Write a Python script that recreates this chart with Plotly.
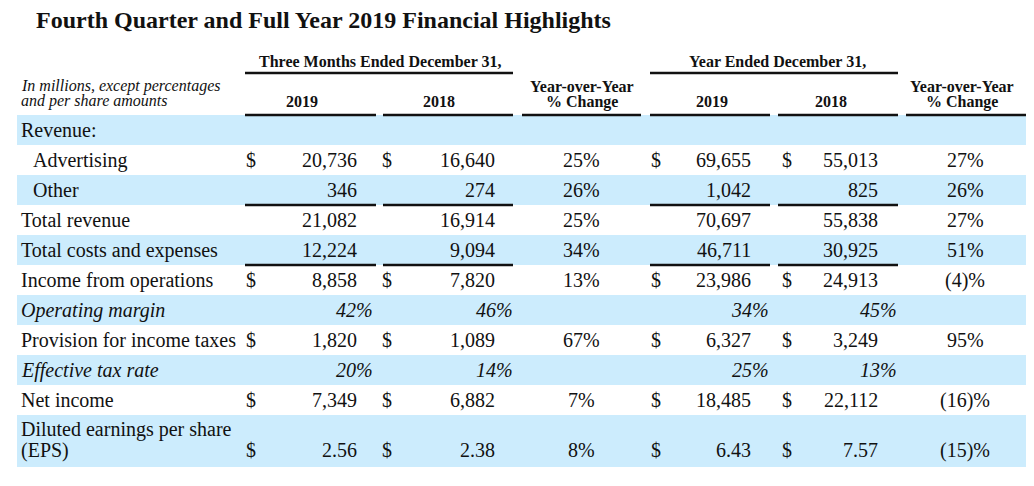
import plotly.graph_objects as go

# ---------------- data ----------------
title = "Fourth Quarter and Full Year 2019 Financial Highlights"
group_headers = ["Three Months Ended December 31,", "Year Ended December 31,"]
col_headers = ["2019", "2018", "Year-over-Year\n% Change", "2019", "2018", "Year-over-Year\n% Change"]
units_note = "In millions, except percentages\nand per share amounts"

row_labels = ["Revenue:", "Advertising", "Other", "Total revenue", "Total costs and expenses",
              "Income from operations", "Operating margin", "Provision for income taxes",
              "Effective tax rate", "Net income", "Diluted earnings per share\n(EPS)"]
row_kind = ["section", "amount", "amount", "amount", "amount", "amount",
            "margin", "amount", "margin", "amount", "eps"]

q4_2019 = [None, 20736, 346, 21082, 12224, 8858, 42, 1820, 20, 7349, 2.56]
q4_2018 = [None, 16640, 274, 16914, 9094, 7820, 46, 1089, 14, 6882, 2.38]
q4_yoy = [None, 25, 26, 25, 34, 13, None, 67, None, 7, 8]
fy_2019 = [None, 69655, 1042, 70697, 46711, 23986, 34, 6327, 25, 18485, 6.43]
fy_2018 = [None, 55013, 825, 55838, 30925, 24913, 45, 3249, 13, 22112, 7.57]
fy_yoy = [None, 27, 26, 27, 51, -4, None, 95, None, -16, -15]

dollar_rows = [1, 5, 7, 9, 10]
indent_rows = [1, 2]
underline_after = [2, 4]

# ---------------- layout constants ----------------
# The page body has an 8px margin, so the figure is 8px smaller and its axes
# start at 8 so that axis units equal page pixels.
W, H = 1034, 486
OFF = 8
SERIF = "Liberation Serif, Times New Roman, serif"
INK = "#111111"
BAND = "#CCECFD"

amount_spans = [(245, 376), (383, 513), (650, 770), (778, 898)]
yoy_spans = [(522, 641), (906, 1027)]
group_spans = [(245, 513), (650, 898)]
group_centers = [380, 777]
dollar_x = [244, 380, 649, 780]
value_right = [359, 497, 753, 880]
pct_right = [375, 515, 771, 899]
yoy_center = [581, 965]
header_center = [302, 439, 582, 712, 831, 962]

row_top = 115
row_h = 30
last_row_h = 52
band_left, band_right = 17, 1027


def fmt_amount(v, kind):
    if v is None:
        return ""
    if kind == "margin":
        return f"{v}%"
    if kind == "eps":
        return f"{v:.2f}"
    return f"{v:,}"


def fmt_yoy(v):
    if v is None:
        return ""
    return f"({-v})%" if v < 0 else f"{v}%"


fig = go.Figure()
fig.add_trace(go.Scatter(x=[OFF], y=[OFF], mode="markers", marker=dict(opacity=0), hoverinfo="skip"))

shapes = []
ann = []


def text(x, y, s, size=20, anchor="left", bold=False, italic=False):
    if bold:
        s = f"<b>{s}</b>"
    ann.append(dict(x=x, y=y, xref="x", yref="y", text=s, showarrow=False,
                    xanchor=anchor, yanchor="middle",
                    font=dict(family=SERIF, size=size, color=INK,
                              style="italic" if italic else "normal")))


def hline(x0, x1, y):
    shapes.append(dict(type="line", xref="x", yref="y", x0=x0, x1=x1, y0=y, y1=y,
                       line=dict(color=INK, width=2.5)))


# title
text(34, 19.5, title, size=24, bold=True)

# group headers
for cx, g, (x0, x1) in zip(group_centers, group_headers, group_spans):
    text(cx, 61, g, size=16, anchor="center", bold=True)
    hline(x0, x1, 73)

# units note
for i, line in enumerate(units_note.split("\n")):
    text(19, 86 + 15 * i, line, size=16, italic=True)

# column headers
for cx, h in zip(header_center, col_headers):
    lines = h.split("\n")
    if len(lines) == 1:
        text(cx, 101, lines[0], size=16, anchor="center", bold=True)
    else:
        for i, line in enumerate(lines):
            text(cx, 86 + 15.5 * i, line, size=16, anchor="center", bold=True)

# row bands
n = len(row_labels)
tops = [row_top + row_h * i for i in range(n)]
bottoms = [t + row_h for t in tops]
bottoms[-1] = tops[-1] + last_row_h
for i in range(n):
    if i % 2 == 0:
        shapes.append(dict(type="rect", xref="x", yref="y", x0=band_left, x1=band_right,
                           y0=tops[i], y1=bottoms[i], fillcolor=BAND, line=dict(width=0),
                           layer="below"))

# header underlines
for x0, x1 in amount_spans + yoy_spans:
    hline(x0, x1, 115)

# body
cols = [q4_2019, q4_2018, fy_2019, fy_2018]
yoys = [q4_yoy, fy_yoy]
for i in range(n):
    kind = row_kind[i]
    yc = (tops[i] + bottoms[i]) / 2 if kind != "eps" else bottoms[i] - 17
    lx = 31 if i in indent_rows else 19
    lines = row_labels[i].split("\n")
    if len(lines) == 1:
        text(lx, yc, lines[0], italic=(kind == "margin"))
    else:
        for k, line in enumerate(lines):
            text(lx, yc - 20.5 * (len(lines) - 1 - k), line)
    for c, col in enumerate(cols):
        s = fmt_amount(col[i], kind)
        if not s:
            continue
        if kind == "margin":
            text(pct_right[c], yc, s, anchor="right", italic=True)
        else:
            text(value_right[c], yc, s, anchor="right")
        if i in dollar_rows:
            text(dollar_x[c], yc, "$")
    for c, col in enumerate(yoys):
        s = fmt_yoy(col[i])
        if s:
            text(yoy_center[c], yc, s, anchor="center")
    if i in underline_after:
        for x0, x1 in amount_spans:
            hline(x0, x1, bottoms[i])

fig.update_layout(
    width=W - OFF, height=H - OFF, margin=dict(l=0, r=0, t=0, b=0, pad=0),
    paper_bgcolor="white", plot_bgcolor="white", showlegend=False,
    xaxis=dict(range=[OFF, W], visible=False, fixedrange=True),
    yaxis=dict(range=[H, OFF], visible=False, fixedrange=True),
    shapes=shapes, annotations=ann,
)
fig.write_html("out.html", config={"displayModeBar": False})
